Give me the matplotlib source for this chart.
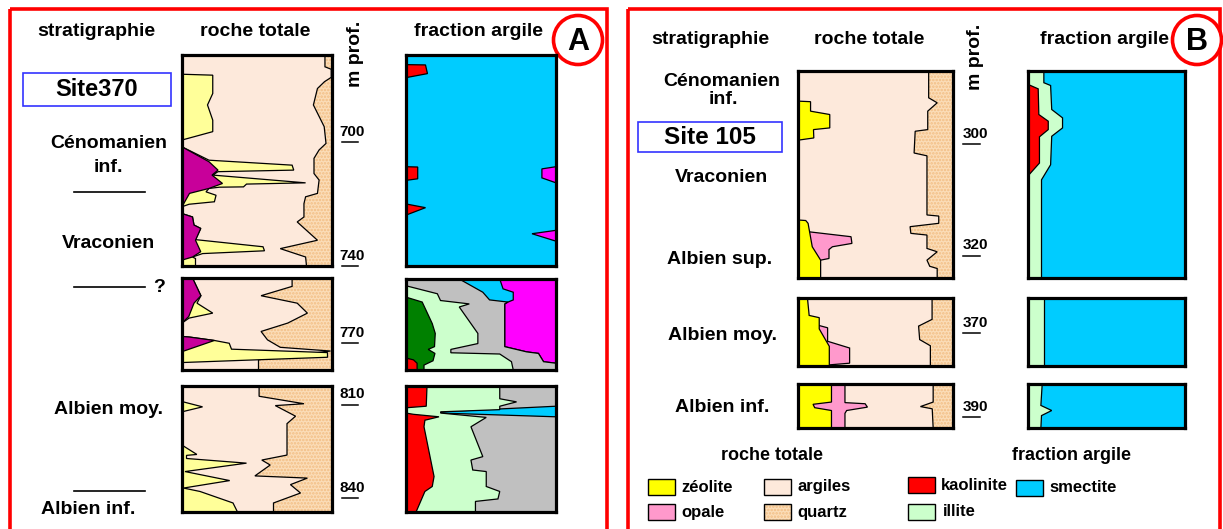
import matplotlib
matplotlib.use('Agg')
import matplotlib.pyplot as plt
from matplotlib.patches import Rectangle, Circle
from matplotlib.transforms import blended_transform_factory

W, H = 1223, 529
plt.rcParams['font.family'] = ['Liberation Sans', 'DejaVu Sans']
plt.rcParams['hatch.linewidth'] = 1.2

# ---------------- colours ----------------
C_CLAY = '#FDE9DB'
C_QTZ = '#FBDDB8'
C_QTZ_DOT = '#F2BE84'
C_ZEO_A = '#FFFF99'
C_ZEO_B = '#FFFF00'
C_MAG_ROCK = '#C8009A'
C_OPAL = '#FF99CC'
C_KAO = '#FF0000'
C_ILL = '#CCFFCC'
C_SME = '#00CCFF'
C_GRAY = '#C0C0C0'
C_CHL = '#008000'
C_MAG_ARG = '#FF00FF'

# ---------------- data: depth ranges (m) ----------------
A_DEPTHS = [(672, 740), (749, 778.6), (804, 844.5)]
B_DEPTHS = [(286.9, 324), (363.8, 375.9), (384.1, 391.9)]
A_TICKS = [700, 740, 770, 810, 840]
A_TICK_BOX = [0, 0, 1, 2, 2]
B_TICKS = [300, 320, 370, 390]
B_TICK_BOX = [0, 0, 1, 2]

# ---- Site 370, roche totale: (depth, cumulative %) ----
A1_ROCK_MAG = [(672, 0), (701.6, 0), (706.4, 18), (709.1, 24), (710.7, 20), (713.4, 27), (715, 18),
               (716.6, 5), (720.9, 0), (723.1, 0), (724.2, 7), (726.8, 8), (727.9, 12.5), (731.7, 9),
               (735.4, 12.5), (737.1, 7), (738.1, 0), (740, 0)]
A1_ROCK_ZEO = [(672, 0), (678.2, 0), (678.5, 20.5), (684.4, 20.5), (688.1, 17), (693, 20.5), (696.7, 20.5),
               (699.4, 0), (701.6, 0), (705.9, 18), (707.5, 73.4), (709.1, 74.5), (709.6, 24), (710.7, 20.5),
               (713.2, 82.4), (713.6, 43), (714.5, 41), (714.6, 25), (715, 18), (716.1, 16), (717.2, 22.7),
               (719.3, 21.6), (720.1, 4.7), (720.9, 0), (723.1, 0), (724.2, 7), (726.8, 8), (727.9, 12.5),
               (731.5, 9), (733.8, 54), (735.1, 55), (736, 13.7), (737.1, 7), (737.6, 9), (740, 9)]
A1_ROCK_QTZ = [(672, 95.3), (675.8, 95.3), (676.6, 99.5), (679.2, 99.5), (680.6, 95), (682.8, 90.3),
               (688.1, 87.6), (695.1, 94.8), (700.5, 96), (702.6, 91.4), (705.3, 88), (710.2, 88),
               (712.3, 91.4), (716.6, 90.3), (717.7, 82.4), (719.9, 81.3), (724.2, 81.3), (725.8, 76.8),
               (731.7, 90.3), (734.4, 65.5), (737.1, 82.4), (740, 83)]

A2_ROCK_MAG = [(749, 7), (754.7, 12.6), (757.1, 8), (761.4, 4.5), (763.5, 0), (767.8, 0), (768, 5),
               (769.1, 21.6), (772.7, 0), (778.6, 0)]
A2_ROCK_ZEO = [(749, 7), (754.7, 12.6), (757.1, 10), (760.3, 20.5), (761.9, 4.7), (763.5, 0), (767.8, 0),
               (768, 5), (769.1, 21.6), (770, 31.5), (771.9, 33), (773, 97), (774.5, 97), (776.2, 0),
               (778.6, 0)]
A2_ROCK_QTZ = [(749, 73.4), (751.7, 73.4), (754.7, 52.7), (757.1, 76.8), (760.3, 83.6), (763.5, 70.5),
               (766.2, 52.7), (768.9, 57), (771.3, 65.5), (772.5, 99), (775.3, 51), (778.6, 51)]

A3_ROCK_ZEO = [(804, 0), (809, 0), (810.7, 13.7), (812.3, 0), (823, 0), (826, 9.9), (826.3, 3),
               (827.3, 3), (828.8, 43), (831.5, 2), (834.4, 31.8), (836.8, 1), (837.9, 12), (841.6, 34),
               (844.5, 37)]
A3_ROCK_QTZ = [(804, 51.4), (807.3, 51.4), (809.7, 81.3), (810.3, 62.2), (813.7, 75.7), (816.1, 70),
               (826.2, 70), (827.8, 53.2), (829.4, 58.8), (832.9, 48.6), (833.6, 83.6), (835.7, 72.3),
               (838.4, 79), (841.6, 61), (844.5, 61)]

# ---- Site 370, fraction argile ----
A1_ARG_KAO = [(672, 0), (675.1, 0), (675.2, 13), (678, 14.3), (679.3, 0), (708, 0), (708.1, 7.8),
              (711.9, 7.8), (712.4, 0), (720, 0), (721.2, 13), (723.6, 0), (740, 0)]
A1_ARG_MAG = [(672, 100), (708, 100), (708.7, 90.6), (711.6, 90.6), (713.2, 100), (728.5, 100),
              (729.6, 84), (732, 100), (740, 100)]

A2_ARG_KAO = [(749, 0), (774.7, 0), (775.3, 5), (776.4, 7.4), (778.6, 7.4)]
A2_ARG_CHL = [(749, 0), (754.9, 0), (756.5, 10.8), (763.5, 17.5), (766.7, 19.5), (771, 19),
              (771.9, 14.8), (773.2, 19.3), (775.6, 18), (777, 12), (778.6, 12)]
A2_ARG_ILL = [(749, 0), (751.2, 0), (753.8, 20.9), (756, 23), (757.1, 42.2), (758.1, 35.5),
              (766.7, 47.9), (770, 47.9), (771.9, 29.9), (773, 29.9), (773.4, 62.5), (775.9, 70.3),
              (778.6, 71.5)]
A2_ARG_GRAY = [(749, 35.5), (753.3, 51.2), (755.8, 55.7), (756.5, 68), (757.1, 65.8), (771, 65.8),
               (772.7, 80.4), (773.2, 88.3), (775.9, 91.7), (776.4, 100), (778.6, 100)]
A2_ARG_SME = [(749, 62.5), (752.2, 64.7), (753.3, 71.5), (755.8, 71.5), (756.5, 68), (757.1, 65.8),
              (771, 65.8), (772.7, 80.4), (773.2, 88.3), (775.9, 91.7), (776.4, 100), (778.6, 100)]

A3_ARG_KAO = [(804, 14), (810.5, 13.5), (811, 0), (812.7, 0), (813.1, 5), (813.9, 22), (815, 12.6),
              (817.1, 12), (833.1, 18.7), (836.3, 17.5), (837.9, 12.6), (844.5, 6.7)]
A3_ARG_ILL = [(804, 62.5), (808.1, 62.5), (809.1, 73.7), (810.5, 62.5), (811.6, 62.5), (812.3, 23.1),
              (812.7, 23.1), (814.1, 53.5), (817.1, 43.3), (826.7, 51.2), (827.8, 43.3), (831, 44.5),
              (831.5, 53.5), (836.3, 53.5), (837.9, 62.5), (840.3, 61.3), (841.1, 46.3), (844.5, 46.3)]
A3_ARG_GRAY = [(804, 100), (810.5, 100), (812.3, 23.1), (812.7, 23.1), (813.9, 100), (844.5, 100)]

# ---- Site 105, roche totale ----
B1_ROCK_ZEO = [(286.9, 0), (292.3, 0), (292.4, 8.1), (294.1, 8.1), (294.7, 20.5), (297.1, 20.5),
               (297.4, 10), (298.9, 10.2), (299.3, 0), (313.6, 0), (313.7, 5), (314.2, 6.5),
               (318.4, 9.2), (320.8, 14.6), (324, 14.6)]
B1_ROCK_OPA = [(315.7, 6.5), (316.6, 34.2), (317.8, 34.8), (318.4, 22.2), (318.9, 20), (320.5, 20),
               (320.8, 14.6)]
B1_ROCK_QTZ = [(286.9, 84.3), (291.7, 84.3), (292.6, 89.8), (294.1, 83.7), (297.4, 83.7), (297.7, 75.6),
               (301.6, 74.9), (302.1, 83.2), (312.7, 83.2), (312.9, 90.8), (314.2, 90.8), (314.8, 72.3),
               (316, 72.8), (316.3, 83.2), (318.7, 83.2), (319.3, 89.8), (320.8, 83.2), (321.9, 85),
               (322.3, 89.8), (324, 89.8)]

B2_ROCK_ZEO = [(363.8, 6.1), (366.9, 7.2), (367.3, 13.7), (369.3, 13.7), (372.4, 20.2), (375.9, 20.2)]
B2_ROCK_OPA = [(368.7, 13.7), (369.1, 19.1), (371.5, 19.1), (372.7, 33.3), (375.4, 33.3), (375.7, 20.2)]
B2_ROCK_QTZ = [(363.8, 86.5), (367.6, 86.5), (368.8, 77.8), (371.2, 78.5), (372.3, 85.4), (375.9, 85.4)]

B3_ROCK_ZEO = [(384.1, 21.6), (387.3, 21.6), (387.7, 9.7), (388.3, 10.8), (388.8, 21.6), (391.9, 21.6)]
B3_ROCK_OPA = [(384.1, 30.3), (387.4, 30.3), (387.6, 43.3), (388.2, 44.8), (388.8, 31.4), (389.3, 30.3),
               (391.9, 30.3)]
B3_ROCK_QTZ = [(384.1, 87.2), (387.3, 87.2), (388.1, 79), (388.5, 86.6), (391.9, 87.2)]

# ---- Site 105, fraction argile ----
B1_ARG_KAO = [(286.9, 0), (289.3, 0), (290.1, 6.5), (294.7, 6.9), (295.9, 12.9), (297.4, 12.9),
              (298.7, 7.3), (303.4, 7.3), (305.7, 0), (324, 0)]
B1_ARG_ILL = [(286.9, 10.1), (289, 10.1), (289.5, 14.4), (293.8, 15.1), (295.3, 22), (297.1, 22),
              (298.6, 15.1), (303.7, 14.4), (306.4, 8.6), (324, 8.6)]
B2_ARG_ILL = [(363.8, 10.1), (375.9, 10.1)]
B3_ARG_ILL = [(384.1, 9), (384.3, 9), (387.9, 8.2), (388.8, 15.1), (389.7, 8.6), (391.9, 8.2)]

# ---------------- figure ----------------
fig = plt.figure(figsize=(W / 100, H / 100), dpi=100)
bg = fig.add_axes([0, 0, 1, 1])
bg.set_xlim(0, W)
bg.set_ylim(H, 0)
bg.axis('off')


def make_box(px, depth, face):
    x0, y0, x1, y1 = px
    ax = fig.add_axes([x0 / W, 1 - y1 / H, (x1 - x0) / W, (y1 - y0) / H])
    ax.set_xlim(0, 100)
    ax.set_ylim(depth[1], depth[0])
    ax.set_facecolor(face)
    ax.set_xticks([])
    ax.set_yticks([])
    for s in ax.spines.values():
        s.set_linewidth(2.3)
        s.set_zorder(20)
    return ax


def fill_left(ax, pts, color):
    d = [p[0] for p in pts]
    v = [p[1] for p in pts]
    ax.fill([0] + v + [0], [d[0]] + d + [d[-1]], facecolor=color, edgecolor='black', linewidth=0.9)


def fill_right(ax, pts, color, hatch=None, hatch_color=None):
    d = [p[0] for p in pts]
    v = [p[1] for p in pts]
    xs = [100] + v + [100]
    ys = [d[0]] + d + [d[-1]]
    if hatch:
        ax.fill(xs, ys, facecolor=color, edgecolor=hatch_color, hatch=hatch, linewidth=0)
        ax.fill(xs, ys, facecolor='none', edgecolor='black', linewidth=0.9)
    else:
        ax.fill(xs, ys, facecolor=color, edgecolor='black', linewidth=0.9)


def depth_ticks(ax, depth, x_line, x_text):
    tr = blended_transform_factory(ax.transAxes, ax.transData)
    ax.plot(x_line, [depth, depth], color='black', lw=1.1, transform=tr, clip_on=False)
    ax.annotate(str(depth), xy=(x_text, depth), xycoords=tr, xytext=(0, 4.5), textcoords='offset points',
                ha='center', va='baseline', fontsize=11, fontweight='bold')


# outer red frames
for (x0, x1) in [(9.5, 607), (627.5, 1220)]:
    bg.add_patch(Rectangle((x0, 9), x1 - x0, 530, facecolor='none', edgecolor='#FF0000', lw=2.6, zorder=1))

# ---------------- panel A ----------------
A_ROCK_PX = [(182, 55, 332, 266), (182, 278, 332, 370), (182, 386, 332, 512)]
A_ARG_PX = [(406, 55, 556, 266), (406, 279, 556, 370), (406, 386, 556, 512)]

rock_axes_A = []
ax = make_box(A_ROCK_PX[0], A_DEPTHS[0], C_CLAY)
fill_right(ax, A1_ROCK_QTZ, C_QTZ, '.....', C_QTZ_DOT)
fill_left(ax, A1_ROCK_ZEO, C_ZEO_A)
fill_left(ax, A1_ROCK_MAG, C_MAG_ROCK)
rock_axes_A.append(ax)
ax = make_box(A_ROCK_PX[1], A_DEPTHS[1], C_CLAY)
fill_right(ax, A2_ROCK_QTZ, C_QTZ, '.....', C_QTZ_DOT)
fill_left(ax, A2_ROCK_ZEO, C_ZEO_A)
fill_left(ax, A2_ROCK_MAG, C_MAG_ROCK)
rock_axes_A.append(ax)
ax = make_box(A_ROCK_PX[2], A_DEPTHS[2], C_CLAY)
fill_right(ax, A3_ROCK_QTZ, C_QTZ, '.....', C_QTZ_DOT)
fill_left(ax, A3_ROCK_ZEO, C_ZEO_A)
rock_axes_A.append(ax)

ax = make_box(A_ARG_PX[0], A_DEPTHS[0], C_SME)
fill_right(ax, A1_ARG_MAG, C_MAG_ARG)
fill_left(ax, A1_ARG_KAO, C_KAO)
ax = make_box(A_ARG_PX[1], A_DEPTHS[1], C_MAG_ARG)
fill_left(ax, A2_ARG_SME, C_SME)
fill_left(ax, A2_ARG_GRAY, C_GRAY)
fill_left(ax, A2_ARG_ILL, C_ILL)
fill_left(ax, A2_ARG_CHL, C_CHL)
fill_left(ax, A2_ARG_KAO, C_KAO)
ax = make_box(A_ARG_PX[2], A_DEPTHS[2], C_SME)
fill_left(ax, A3_ARG_GRAY, C_GRAY)
fill_left(ax, A3_ARG_ILL, C_ILL)
fill_left(ax, A3_ARG_KAO, C_KAO)

for t, b in zip(A_TICKS, A_TICK_BOX):
    depth_ticks(rock_axes_A[b], t, [(342 - 182) / 150, (358 - 182) / 150], (352 - 182) / 150)

hdr = dict(fontsize=14, fontweight='bold', ha='center', va='center')
bg.text(96, 32, 'stratigraphie', **hdr)
bg.text(255, 32, 'roche totale', **hdr)
bg.text(478, 32, 'fraction argile', **hdr)
bg.text(356, 54, 'm prof.', rotation=90, **hdr)

bg.add_patch(Rectangle((23, 73), 148, 33, facecolor='none', edgecolor='#3333FF', lw=1.2))
bg.text(97, 90, 'Site370', fontsize=17, fontweight='bold', ha='center', va='center')
bg.text(109, 143, 'Cénomanien', **hdr)
bg.text(108, 168, 'inf.', **hdr)
bg.text(108, 243, 'Vraconien', **hdr)
bg.text(108, 409, 'Albien moy.', **hdr)
bg.text(88, 509, 'Albien inf.', **hdr)
bg.text(159, 287, '?', **hdr)
for yy in [192, 287, 491]:
    bg.plot([74, 145], [yy, yy], color='black', lw=1.2)

bg.add_patch(Circle((578, 40), 24.5, facecolor='white', edgecolor='#FF0000', lw=2.6, zorder=5))
bg.text(578, 42, 'A', fontsize=22, fontweight='bold', ha='center', va='center', zorder=6)

# ---------------- panel B ----------------
B_ROCK_PX = [(798, 71, 953, 278), (798, 298, 953, 366), (798, 384, 953, 428)]
B_ARG_PX = [(1028, 71, 1185, 278), (1028, 298, 1185, 366), (1028, 384, 1185, 428)]

rock_axes_B = []
for px, dr, qtz, opa, zeo in zip(B_ROCK_PX, B_DEPTHS,
                                 [B1_ROCK_QTZ, B2_ROCK_QTZ, B3_ROCK_QTZ],
                                 [B1_ROCK_OPA, B2_ROCK_OPA, B3_ROCK_OPA],
                                 [B1_ROCK_ZEO, B2_ROCK_ZEO, B3_ROCK_ZEO]):
    ax = make_box(px, dr, C_CLAY)
    fill_right(ax, qtz, C_QTZ, '.....', C_QTZ_DOT)
    fill_left(ax, opa, C_OPAL)
    fill_left(ax, zeo, C_ZEO_B)
    rock_axes_B.append(ax)

ax = make_box(B_ARG_PX[0], B_DEPTHS[0], C_SME)
fill_left(ax, B1_ARG_ILL, C_ILL)
fill_left(ax, B1_ARG_KAO, C_KAO)
ax = make_box(B_ARG_PX[1], B_DEPTHS[1], C_SME)
fill_left(ax, B2_ARG_ILL, C_ILL)
ax = make_box(B_ARG_PX[2], B_DEPTHS[2], C_SME)
fill_left(ax, B3_ARG_ILL, C_ILL)

for t, b in zip(B_TICKS, B_TICK_BOX):
    depth_ticks(rock_axes_B[b], t, [(963 - 798) / 155, (980 - 798) / 155], (975 - 798) / 155)

bg.text(710, 40, 'stratigraphie', **hdr)
bg.text(869, 40, 'roche totale', **hdr)
bg.text(1104, 40, 'fraction argile', **hdr)
bg.text(976, 57, 'm prof.', rotation=90, **hdr)

bg.text(722, 82, 'Cénomanien', **hdr)
bg.text(723, 100, 'inf.', **hdr)
bg.add_patch(Rectangle((638, 122), 144, 30, facecolor='none', edgecolor='#3333FF', lw=1.2))
bg.text(710, 137, 'Site 105', fontsize=17.5, fontweight='bold', ha='center', va='center')
bg.text(721, 177, 'Vraconien', **hdr)
bg.text(720, 260, 'Albien sup.', **hdr)
bg.text(722, 335, 'Albien moy.', **hdr)
bg.text(722, 408, 'Albien inf.', **hdr)

bg.add_patch(Circle((1197, 40), 24.5, facecolor='white', edgecolor='#FF0000', lw=2.6, zorder=5))
bg.text(1197, 42, 'B', fontsize=22, fontweight='bold', ha='center', va='center', zorder=6)

# legend
bg.text(772, 455, 'roche totale', fontsize=13, fontweight='bold', ha='center', va='center')
bg.text(1071, 455, 'fraction argile', fontsize=13, fontweight='bold', ha='center', va='center')
LEG_ITEMS = [('zéolite', C_ZEO_B, 648, 479), ('opale', C_OPAL, 648, 504),
             ('argiles', C_CLAY, 764, 479), ('quartz', C_QTZ, 764, 504),
             ('kaolinite', C_KAO, 908, 477), ('illite', C_ILL, 908, 504),
             ('smectite', C_SME, 1016, 480)]
for label, col, lx, ly in LEG_ITEMS:
    if label == 'quartz':
        bg.add_patch(Rectangle((lx, ly), 27, 16, facecolor=col, edgecolor=C_QTZ_DOT, hatch='.....', lw=0))
        bg.add_patch(Rectangle((lx, ly), 27, 16, facecolor='none', edgecolor='black', lw=1.0))
    else:
        bg.add_patch(Rectangle((lx, ly), 27, 16, facecolor=col, edgecolor='black', lw=1.0))
    bg.text(lx + 33 if label not in ('illite',) else lx + 35, ly + 8, label, fontsize=12,
            fontweight='bold', ha='left', va='center')

fig.savefig('out.png', dpi=100)
